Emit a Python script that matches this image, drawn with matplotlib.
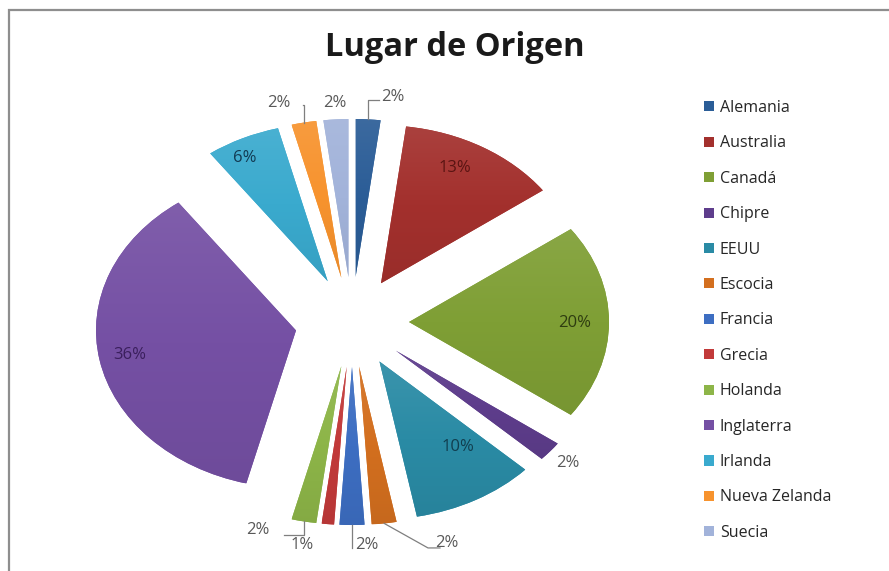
import numpy as np
import matplotlib
matplotlib.use("Agg")
import matplotlib.pyplot as plt
from matplotlib.patches import Patch, Rectangle
from matplotlib.colors import LinearSegmentedColormap, to_rgb

# ---- data ----
categories = ["Alemania", "Australia", "Canadá", "Chipre", "EEUU", "Escocia",
              "Francia", "Grecia", "Holanda", "Inglaterra", "Irlanda",
              "Nueva Zelanda", "Suecia"]
percentages = [2, 13, 20, 2, 10, 2, 2, 1, 2, 36, 6, 2, 2]
title = "Lugar de Origen"

# ---- styles ----
colors = ["#2B5D97", "#A3302D", "#7F9F35", "#5E3D8C", "#2A8BA5", "#D36F1F",
          "#3D6EC2", "#C23A3A", "#8DB548", "#7550A4", "#3AAACE", "#F7932E",
          "#A2B3DA"]
# inside label positions (data coords) and colours
inside = {
    "Australia":  dict(pos=(0.515, 0.975), color="#5A1412"),
    "Canadá":     dict(pos=(1.115, -0.006), color="#2E3C10"),
    "Inglaterra": dict(pos=(-1.11, -0.21), color="#3A1F5C"),
    "EEUU":       dict(pos=(0.53, -0.79), color="#113E4F"),
    "Irlanda":    dict(pos=(-0.535, 1.04), color="#123A52"),
}
# outside label positions (data coords) and leader specs
outside = {
    "Alemania":      dict(pos=(0.205, 1.424), leader=("up", 1.405, 0.135)),
    "Suecia":        dict(pos=(-0.085, 1.386), leader=None),
    "Nueva Zelanda": dict(pos=(-0.365, 1.386), leader=("up", 1.373, -0.245)),
    "Chipre":        dict(pos=(1.08, -0.892), leader=None),
    "Holanda":       dict(pos=(-0.47, -1.316), leader=("down", -1.348, -0.34)),
    "Grecia":        dict(pos=(-0.25, -1.411), leader=None),
    "Francia":       dict(pos=(0.075, -1.411), leader=("down", -1.43, 0.0)),
    "Escocia":       dict(pos=(0.475, -1.399), leader=("diag", -1.43, 0.38, 0.44)),
}

W, H = 889, 571
fig = plt.figure(figsize=(W / 100, H / 100), dpi=100)
fig.patch.set_facecolor("white")

# chart border (only top and left visible)
fig.add_artist(Rectangle((9 / W, -0.2), 1.5, 1.2 - 10 / H, transform=fig.transFigure,
                         fill=False, edgecolor="#8E8E8E", linewidth=1.6))

ax = fig.add_axes([52 / W, 9 / H, 600 / W, 480 / H])
explode = [0.285] * len(percentages)
wedges, _ = ax.pie(percentages, colors=colors, explode=explode, startangle=90,
                   counterclock=False, radius=1.0,
                   wedgeprops=dict(linewidth=0))

def mix(c, t, f):
    c = np.array(to_rgb(c)); t = np.array(to_rgb(t))
    return tuple(c * (1 - f) + t * f)

grad = np.linspace(0, 1, 256).reshape(-1, 1)
for w, col in zip(wedges, colors):
    bb = w.get_path().get_extents()
    cmap = LinearSegmentedColormap.from_list("g", [mix(col, "black", 0.06), col, mix(col, "white", 0.08)])
    im = ax.imshow(grad, cmap=cmap, origin="lower", aspect="auto",
                   extent=(bb.x0, bb.x1, bb.y0, bb.y1), zorder=2, interpolation="bilinear")
    im.set_clip_path(w)

ax.set_aspect("auto")
ax.set_xlim(-1.5, 1.5)
ax.set_ylim(-240 / 158, 240 / 158)
ax.axis("off")

font = "Open Sans"
for name, v, w in zip(categories, percentages, wedges):
    mid = np.deg2rad((w.theta1 + w.theta2) / 2)
    cx, cy = w.center
    if name in inside:
        spec = inside[name]
        ax.text(*spec["pos"], f"{v}%", ha="center", va="center", fontsize=12,
                family=font, color=spec["color"], zorder=5)
    else:
        spec = outside[name]
        ax.text(*spec["pos"], f"{v}%", ha="center", va="center", fontsize=12,
                family=font, color="#595959", zorder=5)
        ld = spec["leader"]
        if ld is not None:
            ox, oy = cx + w.r * np.cos(mid), cy + w.r * np.sin(mid)
            if ld[0] in ("up", "down"):
                xs = [ox, ox, ld[2]]
                ys = [oy, ld[1], ld[1]]
            else:
                xs = [ox, ld[2], ld[3]]
                ys = [oy, ld[1], ld[1]]
            ax.plot(xs, ys, color="#7F7F7F", linewidth=0.9, zorder=4, clip_on=False)

fig.text(455 / W, 1 - 47 / H, title, ha="center", va="center", fontsize=23.5,
         fontweight="bold", family="Open Sans", color="#1A1A1A")

handles = [Patch(facecolor=c, edgecolor="none") for c in colors]
fig.legend(handles, categories, loc="upper left",
           bbox_to_anchor=(704 / W, 1 - 100 / H), frameon=False,
           prop=dict(family=font, size=11.5), labelcolor="#262626",
           handlelength=0.6, handleheight=0.6, handletextpad=0.4,
           labelspacing=1.215, borderpad=0, borderaxespad=0)

fig.savefig("out.png", dpi=100, facecolor="white")
